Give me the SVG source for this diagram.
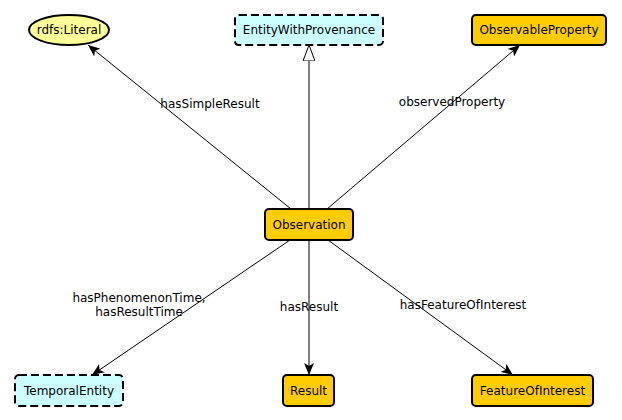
<svg xmlns="http://www.w3.org/2000/svg" width="622" height="420" viewBox="0 0 622 420">
<style>
text{font-family:"DejaVu Sans",sans-serif;font-size:12px;fill:#000}
.n{text-anchor:middle;dominant-baseline:central}
.cls{fill:#ffcc00;stroke:#000;stroke-width:2}
.ext{fill:#ccffff;stroke:#000;stroke-width:2;stroke-dasharray:8,4}
.lit{fill:#ffff99;stroke:#000;stroke-width:2}
.e{stroke:#000;stroke-width:1;fill:none}
.lbl{text-anchor:middle}
</style>
<defs>
<marker id="arr" viewBox="0 0 12 10" refX="12" refY="5" markerWidth="12" markerHeight="10" markerUnits="userSpaceOnUse" orient="auto">
<path d="M0,0 L12,5 L0,10 L3,5 Z" fill="#000"/>
</marker>
<marker id="tri" viewBox="0 0 16 12" refX="16" refY="6" markerWidth="16" markerHeight="12" markerUnits="userSpaceOnUse" orient="auto">
<path d="M0,0 L16,6 L0,12 Z" fill="#fff" stroke="#000" stroke-width="1"/>
</marker>
</defs>
<g id="edges">
<line class="e" x1="291" y1="209" x2="88" y2="45" marker-end="url(#arr)"/>
<line class="e" x1="309" y1="209" x2="309" y2="45" marker-end="url(#tri)"/>
<line class="e" x1="327" y1="209" x2="520" y2="45" marker-end="url(#arr)"/>
<line class="e" x1="290" y1="240" x2="92" y2="375" marker-end="url(#arr)"/>
<line class="e" x1="309" y1="240" x2="309" y2="375" marker-end="url(#arr)"/>
<line class="e" x1="328" y1="240" x2="513" y2="375" marker-end="url(#arr)"/>
<text class="lbl" x="210" y="108">hasSimpleResult</text>
<text class="lbl" x="452" y="106">observedProperty</text>
<text class="lbl" x="139" y="302">hasPhenomenonTime,</text>
<text class="lbl" x="139" y="316">hasResultTime</text>
<text class="lbl" x="309" y="311">hasResult</text>
<text class="lbl" x="463" y="309">hasFeatureOfInterest</text>
</g>
<g id="literal"><ellipse class="lit" cx="69" cy="30" rx="40" ry="15"/><text class="n" x="69" y="30">rdfs:Literal</text></g>
<g id="entityWithProvenance"><rect class="ext" x="235" y="15" width="148" height="30" rx="4"/><text class="n" x="309" y="30">EntityWithProvenance</text></g>
<g id="observableProperty"><rect class="cls" x="472" y="15" width="134" height="30" rx="4"/><text class="n" x="539" y="30">ObservableProperty</text></g>
<g id="observation"><rect class="cls" x="265" y="209" width="88" height="31" rx="4"/><text class="n" x="309" y="224.5">Observation</text></g>
<g id="temporalEntity"><rect class="ext" x="15" y="375" width="108" height="31" rx="4"/><text class="n" x="69" y="390.5">TemporalEntity</text></g>
<g id="result"><rect class="cls" x="283" y="375" width="51" height="31" rx="4"/><text class="n" x="308.5" y="390.5">Result</text></g>
<g id="featureOfInterest"><rect class="cls" x="472" y="375" width="121" height="31" rx="4"/><text class="n" x="532.5" y="390.5">FeatureOfInterest</text></g>
</svg>
